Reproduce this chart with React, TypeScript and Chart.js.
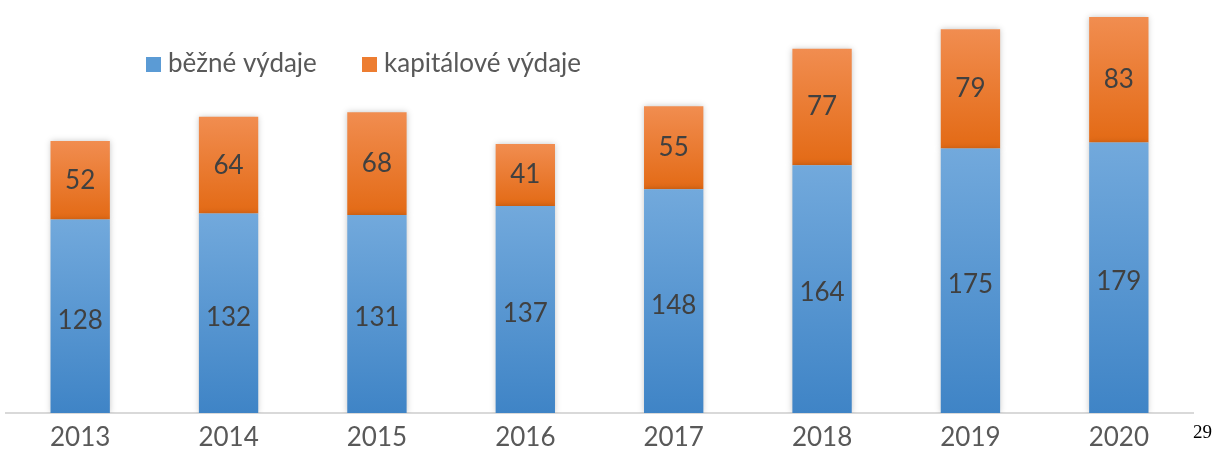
import React, { useEffect, useRef } from "react";
import { Chart, registerables } from "chart.js";

Chart.register(...registerables);

const years = ["2013", "2014", "2015", "2016", "2017", "2018", "2019", "2020"];
const currentExp = [128, 132, 131, 137, 148, 164, 175, 179];
const capitalExp = [52, 64, 68, 41, 55, 77, 79, 83];
const seriesLabels = ["běžné výdaje", "kapitálové výdaje"];
const pageNumber = "29";

const FONT = "Lato, 'Open Sans', sans-serif";
const BLUE_TOP = "#72A9DC";
const BLUE_BOT = "#3F84C6";
const ORANGE_TOP = "#F18D50";
const ORANGE_BOT = "#E36A15";

function gradientFill(c: any, fromVals: number[] | null, toVals: number[], top: string, bot: string, fallback: string) {
  const chart = c.chart;
  const y = chart.scales && chart.scales.y;
  if (!y || c.type !== "data") return fallback;
  const i = c.dataIndex;
  const start = fromVals ? fromVals[i] : 0;
  const end = start + toVals[i];
  const yTop = y.getPixelForValue(end);
  const yBot = y.getPixelForValue(start);
  if (!isFinite(yTop) || !isFinite(yBot) || yTop === yBot) return fallback;
  const g = chart.ctx.createLinearGradient(0, yTop, 0, yBot);
  g.addColorStop(0, top);
  g.addColorStop(1, bot);
  return g;
}

const shadowPlugin = {
  id: "barShadow",
  beforeDatasetsDraw(chart: any) {
    const ctx = chart.ctx;
    ctx.save();
    ctx.shadowColor = "rgba(0,0,0,0.22)";
    ctx.shadowBlur = 6;
    ctx.shadowOffsetX = 0;
    ctx.shadowOffsetY = 0;
  },
  afterDatasetsDraw(chart: any) {
    chart.ctx.restore();
  },
};

const labelPlugin = {
  id: "segLabels",
  afterDatasetsDraw(chart: any) {
    const ctx = chart.ctx;
    ctx.save();
    ctx.shadowColor = "transparent";
    ctx.fillStyle = "#404040";
    ctx.font = `26px ${FONT}`;
    ctx.textAlign = "center";
    ctx.textBaseline = "middle";
    chart.data.datasets.forEach((ds: any, di: number) => {
      const meta = chart.getDatasetMeta(di);
      meta.data.forEach((el: any, i: number) => {
        const p = el.getProps(["x", "y", "base"], true);
        const off = di === 0 ? 4 : 0;
        ctx.fillText(String(ds.data[i]), p.x, (p.y + p.base) / 2 + off);
      });
    });
    ctx.restore();
  },
};

const legendPlugin = {
  id: "topLegend",
  afterDraw(chart: any) {
    const ctx = chart.ctx;
    ctx.save();
    const items = [
      { x: 146, color: "#5B9BD5", text: chart.data.datasets[0].label },
      { x: 362, color: "#ED7D31", text: chart.data.datasets[1].label },
    ];
    ctx.font = `26px ${FONT}`;
    ctx.textBaseline = "middle";
    ctx.textAlign = "left";
    items.forEach((it) => {
      ctx.fillStyle = it.color;
      ctx.fillRect(it.x, 57, 15, 15);
      ctx.fillStyle = "#595959";
      ctx.fillText(it.text, it.x + 22, 64);
    });
    ctx.restore();
  },
};

export default function App() {
  const ref = useRef<HTMLCanvasElement | null>(null);

  useEffect(() => {
    document.body.style.margin = "0";
    const canvas = ref.current;
    if (!canvas) return;
    const chart = new Chart(canvas, {
      type: "bar",
      data: {
        labels: years,
        datasets: [
          {
            label: seriesLabels[0],
            data: currentExp,
            backgroundColor: (c: any) => gradientFill(c, null, currentExp, BLUE_TOP, BLUE_BOT, "#5B9BD5"),
            borderWidth: 0,
            barPercentage: 0.4,
            categoryPercentage: 1,
          },
          {
            label: seriesLabels[1],
            data: capitalExp,
            backgroundColor: (c: any) => gradientFill(c, currentExp, capitalExp, ORANGE_TOP, ORANGE_BOT, "#ED7D31"),
            borderWidth: 0,
            barPercentage: 0.4,
            categoryPercentage: 1,
          },
        ],
      },
      options: {
        responsive: false,
        animation: false,
        layout: { padding: { left: 6, right: 24, top: 5, bottom: 0 } },
        plugins: {
          legend: { display: false },
          tooltip: { enabled: false },
        },
        scales: {
          x: {
            stacked: true,
            grid: { display: false, drawTicks: false },
            border: { display: true, color: "#D9D9D9", width: 2 },
            ticks: {
              color: "#595959",
              font: { family: FONT, size: 26 },
              padding: 9,
              maxRotation: 0,
            },
            afterFit: (s: any) => {
              s.height = 39;
            },
          },
          y: {
            stacked: true,
            display: false,
            min: 0,
            max: 270,
          },
        },
      },
      plugins: [shadowPlugin, labelPlugin, legendPlugin],
    });
    return () => chart.destroy();
  }, []);

  return (
    <div style={{ position: "relative", width: 1217, height: 452 }}>
      <canvas ref={ref} width={1217} height={452} style={{ display: "block" }} />
      <span
        style={{
          position: "absolute",
          left: 1193,
          top: 421,
          fontFamily: "'Liberation Serif', 'Times New Roman', serif",
          fontSize: 19,
          color: "#000",
          lineHeight: "normal",
        }}
      >
        {pageNumber}
      </span>
    </div>
  );
}
